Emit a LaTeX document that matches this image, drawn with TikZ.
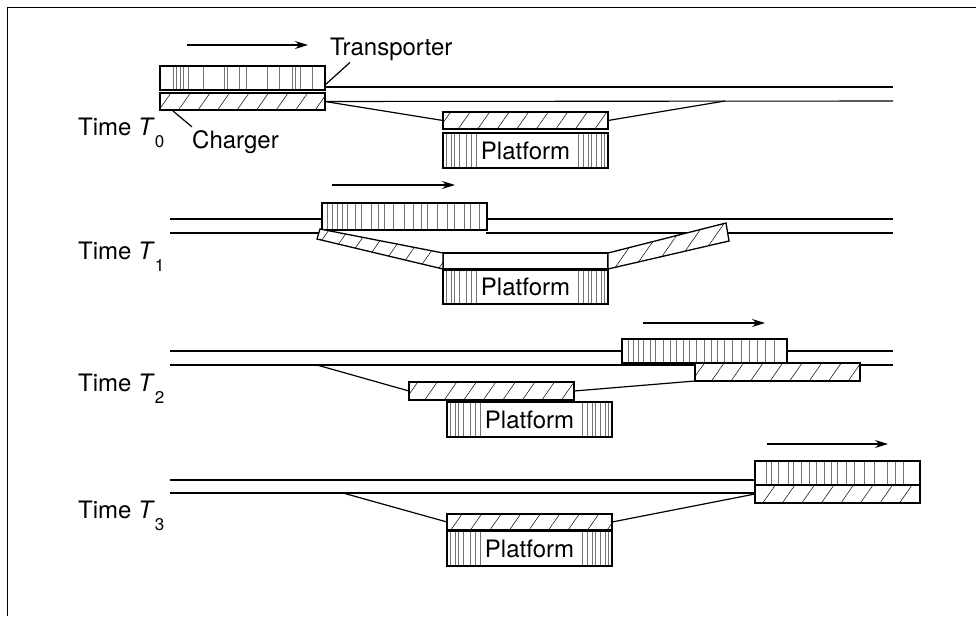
\documentclass[tikz,border=0pt]{standalone}
\usepackage{fontspec}
\setmainfont{TeX Gyre Heros}
\usetikzlibrary{arrows.meta,calc,patterns.meta}
\newcommand{\timesub}[1]{\raisebox{-12pt}{\fontsize{17}{17}\selectfont #1}}

\begin{document}
\begin{tikzpicture}[x=1pt,y=-1pt,>={Stealth[length=13pt,width=8pt]},
  every node/.style={font=\fontsize{24}{28}\selectfont},
  rail/.style={line width=1.1pt},
  ramp/.style={line width=1.2pt},
  lead/.style={line width=1.2pt},
  move/.style={->,line width=1.4pt},
  grain/.style={black!55,line width=0.5pt},
  streaks/.style={path picture={
    \foreach \f in {#1}
      \draw[grain] ($(path picture bounding box.south west)!\f!(path picture bounding box.south east)$)
        -- ($(path picture bounding box.north west)!\f!(path picture bounding box.north east)$);}},
  hatch/.style={postaction={pattern={Lines[angle=55,distance=16pt,line width=0.5pt]}}},
  slab/.style={draw,fill=white,line width=1.3pt,inner sep=0pt,outer sep=0pt,
    anchor=north west,minimum width=165pt},
  carrier/.style={slab,minimum height=24pt,
    streaks={0.08,0.1,0.12,0.14,0.17,0.26,0.39,0.41,0.48,0.52,0.65,0.72,0.8,0.82,0.85,0.92}},
  charger/.style={slab,minimum height=17pt,hatch},
  liftbar/.style={slab,minimum height=16pt},
  platform/.style={slab,minimum height=35pt,
    streaks={0.02,0.05,0.07,0.1,0.14,0.17,0.2,0.82,0.85,0.88,0.9,0.93,0.96,0.98}},
  lab/.style={inner sep=0pt,anchor=base west}]
\useasboundingbox (0,0) rectangle (976,616);
\draw[line width=1pt] (976,7) -- (7,7) -- (7,616);

% time T0
\node[lab] (time0) at (78,135) {Time \textit{T}\timesub{0}};
\coordinate (a0s) at (187,45);
\coordinate (a0e) at (308,45);
\draw[move] (a0s) -- (a0e);
\node[carrier] (tr0) at (160,66) {};
\node[charger] (ch0) at (160,93) {};
\node[lab] (trlab) at (330,55) {Transporter};
\node[lab] (chlab) at (192,148) {Charger};
\coordinate (t0r) at (893,87);
\coordinate (b0r) at (893,101);
\coordinate (j0) at (725,101);
\draw[rail] (tr0.south east) ++(0,-3) -- (t0r);
\draw[rail] (ch0.east) -- (b0r);
\node[charger] (pc0) at (443,112) {};
\node[platform] (pl0) at (443,133) {Platform};
\draw[ramp] (ch0.east) -- (pc0.west);
\draw[ramp] (pc0.east) -- (j0);
\draw[lead] ($(tr0.south east)+(0,-5)$) -- ($(trlab.south west)+(20,2)$);
\draw[lead] ($(ch0.south west)+(13,1)$) -- ($(chlab.north west)+(0,-3)$);

% time T1
\node[lab] (time1) at (78,259) {Time \textit{T}\timesub{1}};
\coordinate (a1s) at (332,185);
\coordinate (a1e) at (455,185);
\draw[move] (a1s) -- (a1e);
\coordinate (t1l) at (170,219);
\coordinate (t1r) at (893,219);
\coordinate (b1l) at (170,233);
\coordinate (b1k) at (320,233);
\coordinate (b1m) at (486,233);
\coordinate (b1r) at (893,233);
\draw[rail] (t1l) -- (t1r);
\draw[rail] (b1l) -- (b1k) (b1m) -- (b1r);
\node[carrier,minimum height=27pt,
  streaks={0.03,0.06,0.09,0.12,0.15,0.2,0.24,0.3,0.34,0.38,0.43,0.5,0.55,0.6,0.64,0.7,0.76,0.8,0.86,0.9,0.95}]
  (tr1) at (322,203) {};
\node[liftbar] (lb1) at (443,253) {};
\draw[line width=1.3pt,fill=white,hatch] (lb1.north west) -- (320,229) -- (317,239) -- (lb1.south west) -- cycle;
\draw[line width=1.3pt,fill=white,hatch] (lb1.north east) -- (726,223) -- (729,241) -- (lb1.south east) -- cycle;
\node[platform,minimum height=34pt] (pl1) at (443,270) {Platform};

% time T2
\node[lab] (time2) at (78,391) {Time \textit{T}\timesub{2}};
\coordinate (a2s) at (643,323);
\coordinate (a2e) at (765,323);
\draw[move] (a2s) -- (a2e);
\coordinate (t2l) at (170,351);
\coordinate (t2r) at (893,351);
\coordinate (b2l) at (170,365);
\coordinate (b2r) at (893,365);
\coordinate (j2) at (317,365);
\draw[rail] (t2l) -- (t2r);
\draw[rail] (b2l) -- (b2r);
\node[carrier,
  streaks={0.04,0.07,0.1,0.13,0.17,0.2,0.25,0.29,0.33,0.37,0.41,0.45,0.5,0.54,0.58,0.62,0.67,0.72,0.77,0.82,0.87,0.92}]
  (tr2) at (622,339) {};
\node[charger,minimum height=18pt] (ch2) at (695,363) {};
\node[charger,minimum height=18pt] (pc2) at (409,382) {};
\node[platform] (pl2) at (447,402) {Platform};
\draw[ramp] (j2) -- (pc2.west);
\draw[ramp] (pc2.east) -- (ch2.south west);

% time T3
\node[lab] (time3) at (78,518) {Time \textit{T}\timesub{3}};
\coordinate (a3s) at (767,444);
\coordinate (a3e) at (888,444);
\draw[move] (a3s) -- (a3e);
\node[carrier,
  streaks={0.07,0.1,0.14,0.2,0.23,0.28,0.33,0.37,0.42,0.46,0.5,0.55,0.6,0.66,0.72,0.8,0.85,0.9}]
  (tr3) at (755,461) {};
\node[charger,minimum height=18pt] (ch3) at (755,485) {};
\coordinate (t3l) at (170,480);
\coordinate (b3l) at (170,493);
\coordinate (j3) at (343,493);
\draw[rail] (t3l) -- (t3l -| tr3.west);
\draw[rail] (b3l) -- (b3l -| ch3.west);
\node[charger,minimum height=16pt] (pc3) at (447,514) {};
\node[platform] (pl3) at (447,531) {Platform};
\draw[ramp] (j3) -- (pc3.west);
\draw[ramp] (pc3.east) -- (ch3.west);
\end{tikzpicture}
\end{document}
